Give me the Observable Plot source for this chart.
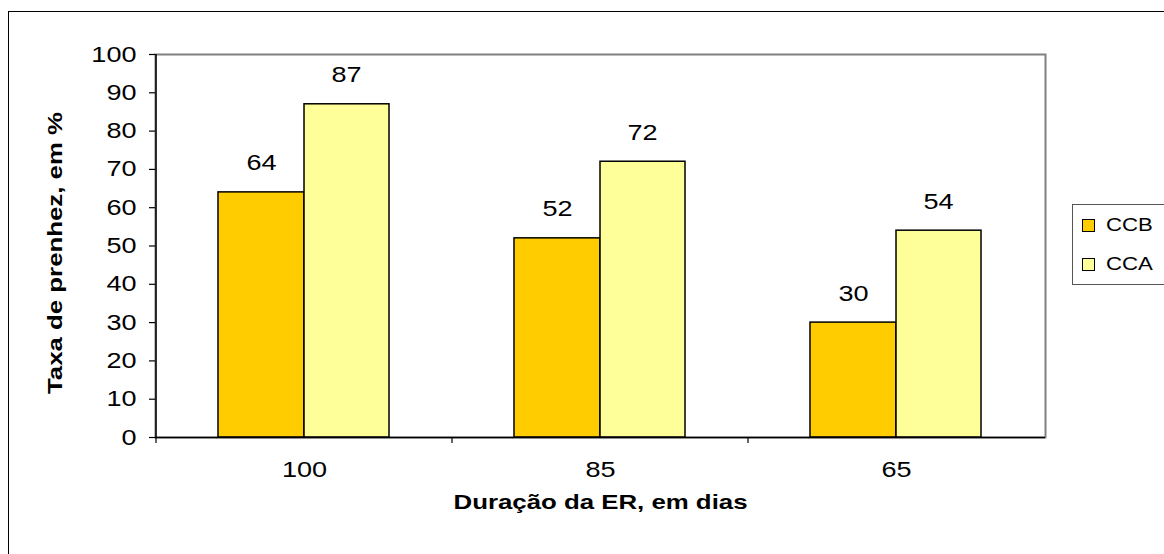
<!DOCTYPE html>
<html>
<head>
<meta charset="utf-8">
<script src="https://cdn.jsdelivr.net/npm/d3@7"></script>
<script src="https://cdn.jsdelivr.net/npm/@observablehq/plot@0.6"></script>
<style>
  html, body { margin: 0; padding: 0; background: #fff; overflow: hidden; }
  #wrap { position: relative; width: 1164px; height: 554px; overflow: hidden; font-family: "Liberation Sans", Arial, sans-serif; }
  #outer { position: absolute; left: 8px; top: 11px; width: 1300px; height: 700px; border-left: 1.5px solid #000; border-top: 1.5px solid #000; box-sizing: border-box; pointer-events: none; }
  #chart { position: absolute; left: 0; top: 0; }
  #legend { position: absolute; left: 1072px; top: 204px; width: 130px; height: 81px; border: 1px solid #555; box-sizing: border-box; background: #fff; }
  .item { position: absolute; left: 9px; display: flex; align-items: center; font-size: 18px; color: #000; }
  .item span { display: inline-block; transform: scaleX(1.23); transform-origin: left center; }
  .sw { width: 11px; height: 11px; border: 1.5px solid #000; margin-right: 11px; }
</style>
</head>
<body>
<div id="wrap">
  <div id="chart"></div>
  <div id="outer"></div>
  <div id="legend"></div>
</div>
<script>
const categories = ["100", "85", "65"];
const seriesNames = ["CCB", "CCA"];
const ccbValues = [64, 52, 30];
const ccaValues = [87, 72, 54];
const seriesColors = ["#FFCC00", "#FFFF99"];
const yTicks = [0, 10, 20, 30, 40, 50, 60, 70, 80, 90, 100];
const xTitle = "Duração da ER, em dias";
const yTitle = "Taxa de prenhez, em %";

const rows = categories.map((c, i) => ({cat: c, CCB: ccbValues[i], CCA: ccaValues[i]}));

const W = 1164, H = 554, ML = 155, MR = 119, MT = 54, MB = 117;
const STRETCH = 1.23;

const plot = Plot.plot({
  width: W,
  height: H,
  marginLeft: ML,
  marginRight: MR,
  marginTop: MT,
  marginBottom: MB,
  style: {fontFamily: '"Liberation Sans", Arial, sans-serif', color: "#000", background: "transparent", overflow: "visible"},
  x: {domain: categories, padding: 0},
  y: {domain: [0, 100]},
  marks: [
    Plot.frame({stroke: "#808080", strokeWidth: 2}),
    Plot.barY(rows, {x: "cat", y: "CCB", fill: seriesColors[0], stroke: "#000", strokeWidth: 1.5, insetLeft: 62, insetRight: 148}),
    Plot.barY(rows, {x: "cat", y: "CCA", fill: seriesColors[1], stroke: "#000", strokeWidth: 1.5, insetLeft: 148, insetRight: 63}),
    Plot.text(rows, {x: "cat", y: "CCB", text: d => String(d.CCB), dx: -43, dy: -29, fontSize: 22}),
    Plot.text(rows, {x: "cat", y: "CCA", text: d => String(d.CCA), dx: 42, dy: -29, fontSize: 22}),
    Plot.ruleY([0], {stroke: "#000", strokeWidth: 1.5}),
    Plot.axisY(yTicks, {tickSize: 6, tickPadding: 13, fontSize: 22, label: null, strokeWidth: 1.2}),
    Plot.axisX({tickSize: 0, tickPadding: 24, fontSize: 22, label: null}),
    Plot.text([xTitle], {text: d => d, frameAnchor: "bottom", textAnchor: "middle", lineAnchor: "middle", dy: 65, fontSize: 21, fontWeight: "bold"}),
    Plot.text([yTitle], {text: d => d, frameAnchor: "left", textAnchor: "middle", lineAnchor: "middle", rotate: -90, dx: -100, dy: 7, fontSize: 21, fontWeight: "bold"})
  ]
});

document.getElementById("chart").appendChild(plot);

const svg = d3.select(plot);

// stretch glyphs horizontally around their anchor, like the original rendering
svg.selectAll("text").each(function() {
  const t = d3.select(this);
  let tr = t.attr("transform") || "";
  const x = +(t.attr("x") || 0), y = +(t.attr("y") || 0);
  if (x || y) {
    tr = tr + ` translate(${x},${y})`;
    t.attr("x", null).attr("y", null);
  }
  t.attr("transform", (tr + ` scale(${STRETCH},1)`).trim());
});

// left axis line and boundary ticks on the x axis, from the band scale
const xs = plot.scale("x");
const ys = plot.scale("y");
const y0 = ys.apply(0), yTop = ys.apply(100);
const left = xs.apply(categories[0]);
svg.append("line").attr("x1", left).attr("x2", left).attr("y1", yTop).attr("y2", y0)
  .attr("stroke", "#000").attr("stroke-width", 1.5);
categories.forEach(c => {
  const bx = xs.apply(c);
  svg.append("line").attr("x1", bx).attr("x2", bx).attr("y1", y0).attr("y2", y0 + 6)
    .attr("stroke", "#000").attr("stroke-width", 1.2);
});

// legend
const legend = document.getElementById("legend");
seriesNames.forEach((s, i) => {
  const item = document.createElement("div");
  item.className = "item";
  item.style.top = (i === 0 ? 10 : 49) + "px";
  const sw = document.createElement("div");
  sw.className = "sw";
  sw.style.background = seriesColors[i];
  const lab = document.createElement("span");
  lab.textContent = s;
  item.appendChild(sw);
  item.appendChild(lab);
  legend.appendChild(item);
});
</script>
</body>
</html>
